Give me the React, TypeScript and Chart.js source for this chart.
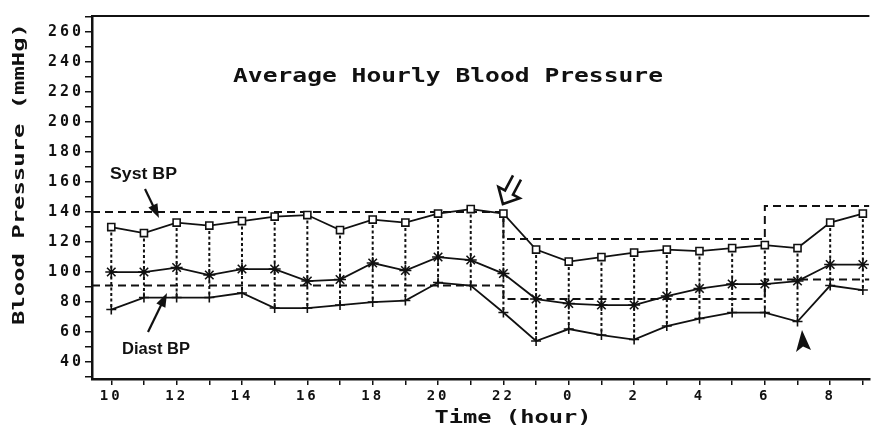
import React, { useEffect, useRef } from 'react';
import { Chart, registerables } from 'chart.js';
Chart.register(...registerables);

// ---- data ----
const hours = [10, 11, 12, 13, 14, 15, 16, 17, 18, 19, 20, 21, 22, 23, 0, 1, 2, 3, 4, 5, 6, 7, 8, 9];
const systolic = [130, 126, 133, 131, 134, 137, 138, 128, 135, 133, 139, 142, 139, 115, 107, 110, 113, 115, 114, 116, 118, 116, 133, 139];
const meanPressure = [100, 100, 103, 98, 102, 102, 94, 95, 106, 101, 110, 108, 99, 82, 79, 78, 78, 84, 89, 92, 92, 94, 105, 105];
const diastolic = [75, 83, 83, 83, 86, 76, 76, 78, 80, 81, 93, 91, 73, 54, 62, 58, 55, 64, 69, 73, 73, 67, 91, 88];
const limitChangeHours = [22, 6];
const systolicLimits = [140, 122, 144];
const diastolicLimits = [91, 82, 95];
const xLabelHours = [10, 12, 14, 16, 18, 20, 22, 0, 2, 4, 6, 8];
const yLabelValues = [40, 60, 80, 100, 120, 140, 160, 180, 200, 220, 240, 260];
const yMinorStep = 10;

const X_MIN = -0.59;
const X_MAX = 23.2;
const Y_MIN = 28.7;
const Y_MAX = 270.7;

const MONO = "'DejaVu Sans Mono', monospace";
const INK = '#111';

function limitLine(limits: number[]) {
  const a = hours.indexOf(limitChangeHours[0]);
  const b = hours.indexOf(limitChangeHours[1]);
  return [
    { x: X_MIN, y: limits[0] },
    { x: a, y: limits[0] },
    { x: a, y: limits[1] },
    { x: b, y: limits[1] },
    { x: b, y: limits[2] },
    { x: X_MAX, y: limits[2] },
  ];
}

function fitText(ctx: CanvasRenderingContext2D, text: string, x: number, y: number, font: string, width: number, align: CanvasTextAlign) {
  ctx.save();
  ctx.font = font;
  (ctx as any).letterSpacing = '0px';
  const w = ctx.measureText(text).width;
  ctx.translate(x, y);
  ctx.scale(width / w, 1);
  ctx.textAlign = align;
  ctx.textBaseline = 'alphabetic';
  ctx.fillStyle = INK;
  ctx.fillText(text, 0, 0);
  ctx.restore();
}

function filledArrow(ctx: CanvasRenderingContext2D, x1: number, y1: number, x2: number, y2: number, hl: number, hw: number) {
  const ang = Math.atan2(y2 - y1, x2 - x1);
  const bx = x2 - hl * Math.cos(ang);
  const by = y2 - hl * Math.sin(ang);
  ctx.save();
  ctx.strokeStyle = INK;
  ctx.fillStyle = INK;
  ctx.lineWidth = 2.2;
  ctx.beginPath();
  ctx.moveTo(x1, y1);
  ctx.lineTo(bx + 2 * Math.cos(ang), by + 2 * Math.sin(ang));
  ctx.stroke();
  const px = -Math.sin(ang) * hw / 2;
  const py = Math.cos(ang) * hw / 2;
  ctx.beginPath();
  ctx.moveTo(x2, y2);
  ctx.lineTo(bx + px, by + py);
  ctx.lineTo(bx - px, by - py);
  ctx.closePath();
  ctx.fill();
  ctx.restore();
}

const spacingPlugin = {
  id: 'spacing',
  beforeDraw(chart: any) {
    (chart.ctx as any).letterSpacing = '3px';
  },
};

const hourLinesPlugin = {
  id: 'hourLines',
  beforeDatasetsDraw(chart: any) {
    const ctx = chart.ctx as CanvasRenderingContext2D;
    const xs = chart.scales.x;
    const ys = chart.scales.y;
    ctx.save();
    ctx.strokeStyle = INK;
    ctx.lineWidth = 2;
    ctx.setLineDash([3, 2.5]);
    hours.forEach((_, i) => {
      const x = xs.getPixelForValue(i);
      ctx.beginPath();
      ctx.moveTo(x, ys.getPixelForValue(systolic[i]));
      ctx.lineTo(x, ys.getPixelForValue(diastolic[i]));
      ctx.stroke();
    });
    ctx.restore();
  },
};

const overlayPlugin = {
  id: 'overlay',
  afterDraw(chart: any) {
    const ctx = chart.ctx as CanvasRenderingContext2D;
    const a = chart.chartArea;
    const xs = chart.scales.x;
    const ys = chart.scales.y;
    ctx.save();
    (ctx as any).letterSpacing = '0px';
    // top frame line
    ctx.strokeStyle = INK;
    ctx.lineWidth = 2;
    ctx.beginPath();
    ctx.moveTo(a.left - 1, a.top);
    ctx.lineTo(a.right, a.top);
    ctx.stroke();

    // title
    fitText(ctx, 'Average Hourly Blood Pressure', 448, 82, `bold 19px ${MONO}`, 430, 'center');
    // x title
    fitText(ctx, 'Time (hour)', 513, 423, `bold 17px ${MONO}`, 157, 'center');
    // y title
    ctx.save();
    ctx.translate(23.5, 174);
    ctx.rotate(-Math.PI / 2);
    fitText(ctx, 'Blood Pressure (mmHg)', 0, 0, `bold 16px ${MONO}`, 302, 'center');
    ctx.restore();

    // series labels
    fitText(ctx, 'Syst BP', 110, 179, "bold 16px 'Liberation Sans', Arial, sans-serif", 67, 'left');
    fitText(ctx, 'Diast BP', 122, 354, "bold 16px 'Liberation Sans', Arial, sans-serif", 68, 'left');
    filledArrow(ctx, 145, 189, 159, 218, 14, 10);
    filledArrow(ctx, 148, 332, 167, 293, 14, 10);

    // open arrow at night start
    const ni = hours.indexOf(limitChangeHours[0]);
    const tx = xs.getPixelForValue(ni) - 0.5;
    const ty = ys.getPixelForValue(systolicLimits[0]) - 8;
    ctx.save();
    ctx.translate(tx, ty);
    ctx.rotate((28 * Math.PI) / 180);
    ctx.strokeStyle = INK;
    ctx.lineWidth = 2.6;
    ctx.lineJoin = 'miter';
    ctx.beginPath();
    ctx.moveTo(-4.5, -30);
    ctx.lineTo(-4.5, -13);
    ctx.lineTo(-12, -13);
    ctx.lineTo(0, 0);
    ctx.lineTo(12, -13);
    ctx.lineTo(4.5, -13);
    ctx.lineTo(4.5, -30);
    ctx.stroke();
    ctx.restore();

    // filled arrowhead under the 7 h diastolic point
    const di = hours.indexOf(7);
    const ax = xs.getPixelForValue(di) + 4.5;
    const ay = ys.getPixelForValue(diastolic[di]) + 8.5;
    ctx.fillStyle = INK;
    ctx.beginPath();
    ctx.moveTo(ax, ay);
    ctx.lineTo(ax - 6, ay + 22);
    ctx.lineTo(ax + 1, ay + 16.5);
    ctx.lineTo(ax + 9, ay + 20);
    ctx.closePath();
    ctx.fill();
    ctx.restore();
  },
};

export default function App() {
  const ref = useRef<HTMLCanvasElement | null>(null);
  useEffect(() => {
    document.body.style.margin = '0';
    document.body.style.overflow = 'hidden';
    const canvas = ref.current!;
    const pts = (arr: number[]) => arr.map((v, i) => ({ x: i, y: v }));
    const chart = new Chart(canvas, {
      type: 'line',
      data: {
        datasets: [
          {
            label: 'Systolic',
            data: pts(systolic),
            borderColor: INK,
            borderWidth: 1.8,
            pointStyle: 'rect',
            pointRadius: 5,
            pointBorderWidth: 1.6,
            pointBackgroundColor: '#fff',
            pointBorderColor: INK,
            tension: 0,
          },
          {
            label: 'Mean',
            data: pts(meanPressure),
            borderColor: INK,
            borderWidth: 1.8,
            pointStyle: 'star',
            pointRadius: 6,
            pointBorderWidth: 1.6,
            pointBorderColor: INK,
            tension: 0,
          },
          {
            label: 'Diastolic',
            data: pts(diastolic),
            borderColor: INK,
            borderWidth: 1.8,
            pointStyle: 'cross',
            pointRadius: 5,
            pointBorderWidth: 1.6,
            pointBorderColor: INK,
            tension: 0,
          },
          {
            label: 'Systolic limit',
            data: limitLine(systolicLimits),
            borderColor: INK,
            borderWidth: 2,
            borderDash: [8, 5],
            pointRadius: 0,
            tension: 0,
          },
          {
            label: 'Diastolic limit',
            data: limitLine(diastolicLimits),
            borderColor: INK,
            borderWidth: 2,
            borderDash: [8, 5],
            pointRadius: 0,
            tension: 0,
          },
        ],
      },
      options: {
        responsive: false,
        animation: false,
        devicePixelRatio: 1,
        layout: { padding: { top: 16, left: 0, right: 0, bottom: 0 } },
        plugins: { legend: { display: false }, tooltip: { enabled: false }, title: { display: false } },
        scales: {
          x: {
            type: 'linear',
            min: X_MIN,
            max: X_MAX,
            afterBuildTicks: (s: any) => {
              s.ticks = hours.map((_, i) => ({ value: i }));
            },
            afterFit: (s: any) => {
              s.height = 47;
            },
            ticks: {
              autoSkip: false,
              maxRotation: 0,
              padding: 3,
              color: INK,
              font: { family: MONO, size: 14, weight: 'bold' },
              callback: (v: any) => {
                const h = hours[Math.round(Number(v))];
                return xLabelHours.includes(h) ? String(h) : '';
              },
            },
            grid: { drawOnChartArea: false, drawTicks: true, tickLength: 6, color: INK, lineWidth: 1.5 },
            border: { display: true, color: INK, width: 2.5 },
          },
          y: {
            type: 'linear',
            min: Y_MIN,
            max: Y_MAX,
            afterBuildTicks: (s: any) => {
              const t: any[] = [];
              for (let v = Math.ceil(Y_MIN / yMinorStep) * yMinorStep; v <= Y_MAX; v += yMinorStep) t.push({ value: v });
              s.ticks = t;
            },
            afterFit: (s: any) => {
              s.width = 92;
            },
            ticks: {
              autoSkip: false,
              padding: 1,
              color: INK,
              font: { family: MONO, size: 15, weight: 'bold' },
              callback: (v: any) => (yLabelValues.includes(Number(v)) ? String(v) : ''),
            },
            grid: { drawOnChartArea: false, drawTicks: true, tickLength: 7, color: INK, lineWidth: 1.5 },
            border: { display: true, color: INK, width: 2.5 },
          },
        },
      },
      plugins: [spacingPlugin, hourLinesPlugin, overlayPlugin],
    } as any);
    return () => chart.destroy();
  }, []);
  return (
    <div style={{ width: 877, height: 426 }}>
      <canvas ref={ref} width={877} height={426} style={{ display: 'block' }} />
    </div>
  );
}
